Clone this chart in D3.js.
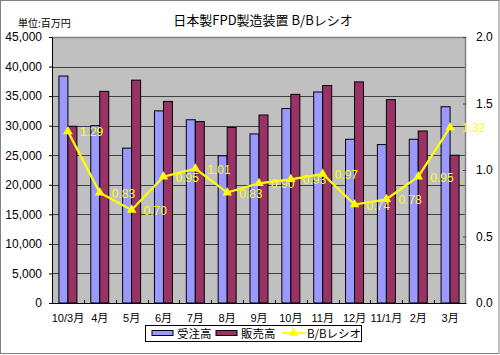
<!DOCTYPE html>
<html><head><meta charset="utf-8">
<script src="https://cdn.jsdelivr.net/npm/d3@7"></script>
<style>
body{margin:0;background:#fff;}
svg{display:block;}
text{font-family:Arial,"Liberation Sans","Noto Sans CJK JP",sans-serif;}
.jp{font-family:"Noto Sans CJK JP",sans-serif;}
</style></head>
<body>
<svg id="c" width="500" height="355"></svg>
<script>
const categories = ["10/3月","4月","5月","6月","7月","8月","9月","10月","11月","12月","11/1月","2月","3月"];
const orders = [38400,30000,26200,32500,31000,24900,28600,32900,35700,27700,26800,27700,33200];
const sales  = [29900,35800,37700,34100,30700,29700,31800,35300,36800,37400,34400,29100,25000];
const ratio  = [1.29,0.83,0.70,0.95,1.01,0.83,0.90,0.93,0.97,0.74,0.78,0.95,1.32];
const ratioLabels = ["1.29","0.83","0.70","0.95","1.01","0.83","0.90","0.93","0.97","0.74","0.78","0.95","1.32"];
const seriesNames = ["受注高","販売高","B/Bレシオ"];
const leftTicks = [0,5000,10000,15000,20000,25000,30000,35000,40000,45000];
const rightTicks = [0,0.5,1.0,1.5,2.0];

const svg = d3.select("#c");
const L=52,R=466,T=37,B=303;

// outer border
svg.append("rect").attr("x",0.5).attr("y",0.5).attr("width",498.5).attr("height",353).attr("fill","#fff").attr("stroke","#808080");

const x = d3.scaleBand().domain(categories).range([L,R]).padding(0);
const xs = d3.scaleBand().domain(["o","s"]).range([0,x.bandwidth()]).paddingInner(0).paddingOuter(0.77);
const y = d3.scaleLinear().domain([0,45000]).range([B,T]);
const y2 = d3.scaleLinear().domain([0,2]).range([B,T]);

// plot bg
svg.append("rect").attr("x",L).attr("y",T).attr("width",R-L).attr("height",B-T).attr("fill","#C0C0C0");
// gridlines
svg.append("g").selectAll("line").data(leftTicks.filter(d=>d>0&&d<45000)).join("line")
  .attr("x1",L).attr("x2",R).attr("y1",d=>Math.round(y(d))+0.5).attr("y2",d=>Math.round(y(d))+0.5)
  .attr("stroke","#404040").attr("stroke-width",1);
// plot border top/right
svg.append("path").attr("d",`M${L},${T+0.5}H${R-0.5}V${B}`).attr("fill","none").attr("stroke","#808080").attr("stroke-width",1.5);

// bars
const colors = {o:"#9999FF", s:"#993366"};
const gb = svg.append("g");
categories.forEach((c,i)=>{
  [["o",orders[i]],["s",sales[i]]].forEach(([k,v])=>{
    gb.append("rect").attr("x",x(c)+xs(k)).attr("y",y(v)).attr("width",xs.bandwidth()).attr("height",B-y(v))
      .attr("fill",colors[k]).attr("stroke","#000").attr("stroke-width",1);
  });
});

// left axis
const la = svg.append("g").attr("transform",`translate(${L},0)`)
  .call(d3.axisLeft(y).tickValues(leftTicks).tickFormat(d3.format(",")).tickSize(3).tickPadding(7));
la.select(".domain").attr("stroke","#000");
la.selectAll("text").attr("font-size","12px").attr("fill","#000");
// right axis
const ra = svg.append("g").attr("transform",`translate(${R},0)`)
  .call(d3.axisRight(y2).tickValues(rightTicks).tickFormat(d3.format(".1f")).tickSize(-3).tickPadding(10));
ra.select(".domain").remove();
ra.selectAll("line").attr("stroke","#404040");
ra.selectAll("text").attr("font-size","12px").attr("fill","#000");
// bottom axis
const ba = svg.append("g").attr("transform",`translate(0,${B})`)
  .call(d3.axisBottom(x).tickSize(0).tickPadding(11));
ba.select(".domain").attr("stroke","#000");
ba.selectAll("text").attr("font-size","11px").attr("fill","#000");
// category boundary ticks (inside)
svg.append("g").selectAll("line").data(categories.slice(1)).join("line")
  .attr("x1",d=>Math.round(x(d))+0.5).attr("x2",d=>Math.round(x(d))+0.5).attr("y1",B).attr("y2",B-3).attr("stroke","#000");

// ratio line
const cx = (c)=>x(c)+x.bandwidth()/2;
const line = d3.line().x((d,i)=>cx(categories[i])).y(d=>y2(d));
svg.append("path").datum(ratio).attr("d",line).attr("fill","none").attr("stroke","#FFFF00").attr("stroke-width",2.2);
const tri = d3.symbol().type(d3.symbolTriangle).size(40);
svg.append("g").selectAll("path").data(ratio).join("path")
  .attr("transform",(d,i)=>`translate(${cx(categories[i])},${y2(d)})`).attr("d",tri).attr("fill","#FFFF00");
svg.append("g").selectAll("text").data(ratio).join("text")
  .attr("x",(d,i)=>cx(categories[i])+12).attr("y",d=>y2(d)+5)
  .attr("font-size","12px").attr("fill","#FFFF00").text((d,i)=>ratioLabels[i]);

// title
svg.append("text").attr("class","jp").attr("x",263).attr("y",25).attr("text-anchor","middle").attr("font-size","13px").attr("fill","#000").text("日本製FPD製造装置 B/Bレシオ");
svg.append("text").attr("class","jp").attr("x",18).attr("y",27).attr("font-size","10px").attr("fill","#000").text("単位:百万円");

// legend
const lg = svg.append("g");
lg.append("rect").attr("x",145.5).attr("y",325.5).attr("width",216).attr("height",16).attr("fill","#fff").attr("stroke","#000");
[[152,"o"],[216,"s"]].forEach(([lx,k],j)=>{
  lg.append("rect").attr("x",lx).attr("y",330.5).attr("width",21).attr("height",5).attr("fill",colors[k]).attr("stroke","#000");
  lg.append("text").attr("class","jp").attr("x",lx+25).attr("y",338).attr("font-size","11.5px").attr("fill","#000").text(seriesNames[j]);
});
lg.append("line").attr("x1",282).attr("x2",305).attr("y1",333).attr("y2",333).attr("stroke","#FFFF00").attr("stroke-width",2);
lg.append("path").attr("transform","translate(293.5,333)").attr("d",tri).attr("fill","#FFFF00");
lg.append("text").attr("class","jp").attr("x",307).attr("y",338).attr("font-size","11.5px").attr("fill","#000").text(seriesNames[2]);
</script>
</body></html>
